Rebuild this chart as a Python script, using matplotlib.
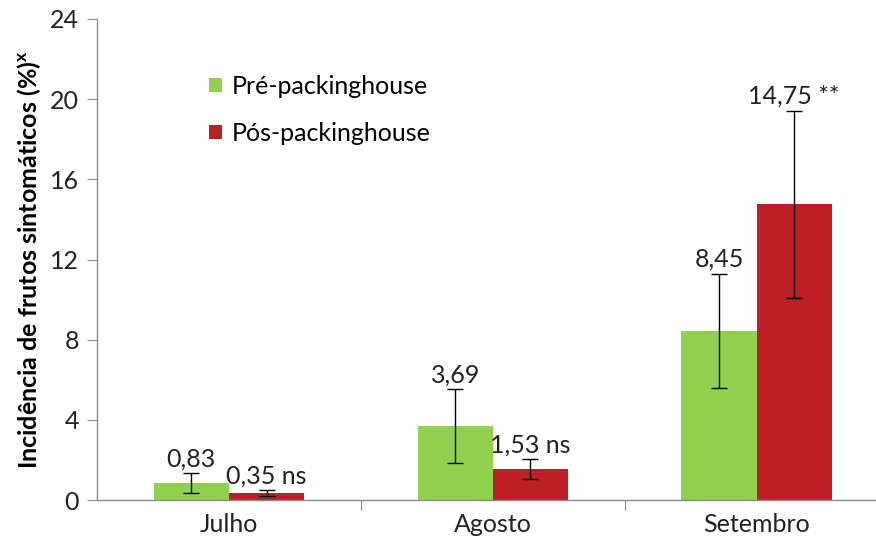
import numpy as np
import matplotlib.pyplot as plt

plt.rcParams['font.family'] = ['Lato', 'DejaVu Sans']

meses = ['Julho', 'Agosto', 'Setembro']
pre = [0.83, 3.69, 8.45]
pos = [0.35, 1.53, 14.75]
pre_err = [0.5, 1.83, 2.84]
pos_err = [0.15, 0.5, 4.67]
pre_rotulos = ['0,83', '3,69', '8,45']
pos_rotulos = ['0,35 ns', '1,53 ns', '14,75 **']

verde = '#92D050'
vermelho = '#BE1E26'
cinza = '#8C8C8C'
texto = '#222222'
fs = 18

fig = plt.figure(figsize=(8.76, 5.48), dpi=100)
ax = fig.add_axes([97 / 876, 48 / 548, (876 - 97) / 876, (500 - 19) / 548])

x = np.arange(len(meses))
w = 0.285
ax.bar(x - w / 2, pre, w, color=verde, label='Pré-packinghouse', zorder=2)
ax.bar(x + w / 2, pos, w, color=vermelho, label='Pós-packinghouse', zorder=2)
ax.errorbar(x - w / 2, pre, yerr=pre_err, fmt='none', ecolor='black',
            elinewidth=1, capsize=6, capthick=1, zorder=3)
ax.errorbar(x + w / 2, pos, yerr=pos_err, fmt='none', ecolor='black',
            elinewidth=1, capsize=6, capthick=1, zorder=3)

# rótulos acima das barras de erro
for xi, v, e, t in zip(x - w / 2, pre, pre_err, pre_rotulos):
    ax.annotate(t, (xi, v + e), xytext=(0, 2), textcoords='offset points',
                ha='center', va='bottom', fontsize=fs, color=texto)
for xi, v, e, t in zip(x + w / 2, pos, pos_err, pos_rotulos):
    ax.annotate(t, (xi, v + e), xytext=(0, 2), textcoords='offset points',
                ha='center', va='bottom', fontsize=fs, color=texto)

ax.set_ylim(0, 24)
ax.set_yticks(range(0, 25, 4))
ax.set_xlim(-0.5, (876 - 98) / 263.5 - 0.5)
ax.set_xticks([0.5, 1.5])
ax.set_xticklabels([])
ax.set_xticks(x, minor=True)
ax.set_xticklabels(meses, minor=True, fontsize=fs, color=texto)
ax.tick_params(axis='x', which='major', direction='out', length=7, color=cinza)
ax.tick_params(axis='x', which='minor', length=0, pad=9)
ax.tick_params(axis='y', direction='out', length=7, color=cinza,
               labelsize=fs, labelcolor=texto, pad=6)

for s in ['top', 'right']:
    ax.spines[s].set_visible(False)
for s in ['left', 'bottom']:
    ax.spines[s].set_color(cinza)
    ax.spines[s].set_linewidth(1)

ax.set_ylabel('Incidência de frutos sintomáticos (%)$^{\\mathregular{x}}$',
              fontsize=18, fontweight='bold', labelpad=5)

ax.legend(loc='upper left', bbox_to_anchor=(0.115, 0.93), frameon=False,
          fontsize=fs, handlelength=0.5, handleheight=0.5, handletextpad=0.4,
          labelspacing=0.95)

fig.savefig('out.png', dpi=100)
